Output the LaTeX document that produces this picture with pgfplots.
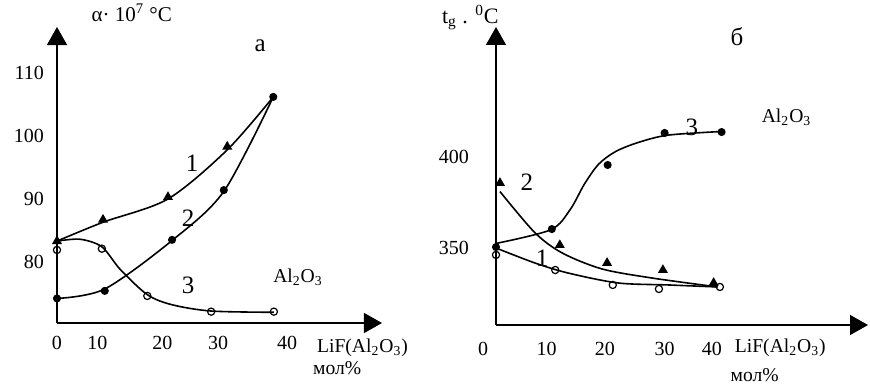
\documentclass[border=0pt]{standalone}
\usepackage{fontspec}
\setmainfont{Liberation Serif}
\usepackage{pgfplots}
\pgfplotsset{compat=1.18}
\usetikzlibrary{arrows.meta}
\tikzset{
  lab/.style={font=\fontsize{12.5bp}{14bp}\selectfont},
  txt/.style={font=\fontsize{9.8bp}{11bp}\selectfont},
}
\pgfplotsset{
  myax/.style={
    scale only axis, axis lines=left, enlargelimits=false, clip=false,
    axis line style={line width=0.7bp, -{Triangle[width=10bp,length=9bp]}},
    major tick length=0pt,
    tick label style={font=\fontsize{10bp}{11bp}\selectfont},
    /pgf/number format/assume math mode=true,
    every axis plot/.append style={line width=0.8bp, black},
  },
  tri/.style={only marks, mark=triangle*, mark size=2.1bp},
  dot/.style={only marks, mark=*, mark size=1.6bp},
  ocirc/.style={only marks, mark=o, mark size=1.8bp, mark options={fill=white, line width=0.6bp}},
}
\begin{document}
\begin{tikzpicture}
\path[use as bounding box] (0,0) rectangle (435bp,193bp);
% ---------------- left chart (a) ----------------
\begin{axis}[myax, at={(28.5bp,31.5bp)}, anchor=south west,
  width=162.5bp, height=148bp,
  xmin=0, xmax=56.5, ymin=70.3, ymax=117.3,
  xtick={0,7,18.3,28,40}, xticklabels={0,10,20,30,40},
  ytick={80,90,100,110},
  xticklabel style={yshift=-3bp}, yticklabel style={xshift=-3bp}]
% curve 1
\addplot[smooth] coordinates {(0,83.3) (8,86.3) (19.3,90) (29.6,97.8) (37.6,106.2)};
\addplot[tri] coordinates {(0,83.3) (8,86.7) (19.3,90.3) (29.6,98.3)};
% curve 2
\addplot[smooth] coordinates {(0,74.2) (8.3,75.7) (20,83.4) (29,91.2) (37.6,106.2)};
\addplot[dot] coordinates {(0,74.2) (8.3,75.4) (20,83.5) (29,91.4) (37.6,106.2)};
% curve 3
\addplot[smooth] coordinates {(0,83.3) (4,83.6) (7.8,82.4) (11,78.8) (15.7,74.8) (20,73.2) (26.8,72.2) (37.7,72)};
\addplot[ocirc] coordinates {(0,81.9) (7.8,82.1) (15.7,74.6) (26.8,72.1) (37.7,72.1)};
\node[lab] at (axis cs:23.5,95.7) {1};
\node[lab] at (axis cs:22.8,87) {2};
\node[lab] at (axis cs:22.8,76.3) {3};
\node[txt] at (axis cs:41.9,77.6) {Al\textsubscript{2}O\textsubscript{3}};
\node[lab] at (axis cs:35.3,114.4) {а};
\node[font=\fontsize{10.5bp}{12bp}\selectfont] at (axis cs:13,119.6) {α· 10\textsuperscript{7} °C};
\node[txt, anchor=west] at (axis cs:44,66.3) {LiF(Al\textsubscript{2}O\textsubscript{3})};
\node[txt] at (axis cs:48.7,63.2) {мол\%};
\end{axis}
% ---------------- right chart (б) ----------------
\begin{axis}[myax, at={(248bp,30.5bp)}, anchor=south west,
  width=186bp, height=149bp,
  xmin=0, xmax=65.3, ymin=307.7, ymax=471.4,
  xtick={8.9,19.1,29.6,37.9}, xticklabels={10,20,30,40},
  extra x ticks={0}, extra x tick labels={0},
  extra x tick style={xticklabel style={xshift=-6.5bp}},
  ytick={350,400},
  xticklabel style={yshift=-5bp}, yticklabel style={xshift=-10bp}]
% curve 3
\addplot[smooth] coordinates {(0,352.5) (9.6,360) (13,371) (15.5,385) (18,396) (21,403) (25,408) (30.2,412) (39.6,414)};
\addplot[dot] coordinates {(0,350.5) (9.8,360.4) (19.6,395.6) (29.6,413.2) (39.6,413.7)};
% curve 2
\addplot[smooth] coordinates {(0.7,381) (6.8,358.5) (11.6,347.3) (18.6,338.5) (27.4,333.5) (38.9,328.6)};
\addplot[tri] coordinates {(0.7,385.7) (11.2,351.6) (19.5,341.8) (29.3,337.9) (38.2,330.8)};
% curve 1
\addplot[smooth] coordinates {(0,350) (6.8,341.8) (12.6,336.3) (21.4,330.8) (30.2,329.7) (38.9,328.6)};
\addplot[ocirc] coordinates {(0,346.2) (10.4,337.9) (20.5,329.7) (28.6,327.5) (39.3,328.6)};
\node[lab] at (axis cs:34.4,416.5) {3};
\node[lab] at (axis cs:5.4,386.3) {2};
\node[lab] at (axis cs:8.1,344.5) {1};
\node[txt] at (axis cs:51,422) {Al\textsubscript{2}O\textsubscript{3}};
\node[lab] at (axis cs:42.3,466) {б};
\node[font=\fontsize{11bp}{13bp}\selectfont] at (axis cs:-4.5,476.4) {t\textsubscript{g} . \textsuperscript{0}C};
\node[txt, anchor=west] at (axis cs:40.7,295) {LiF(Al\textsubscript{2}O\textsubscript{3})};
\node[txt] at (axis cs:45.4,280.2) {мол\%};
\end{axis}
\end{tikzpicture}
\end{document}
